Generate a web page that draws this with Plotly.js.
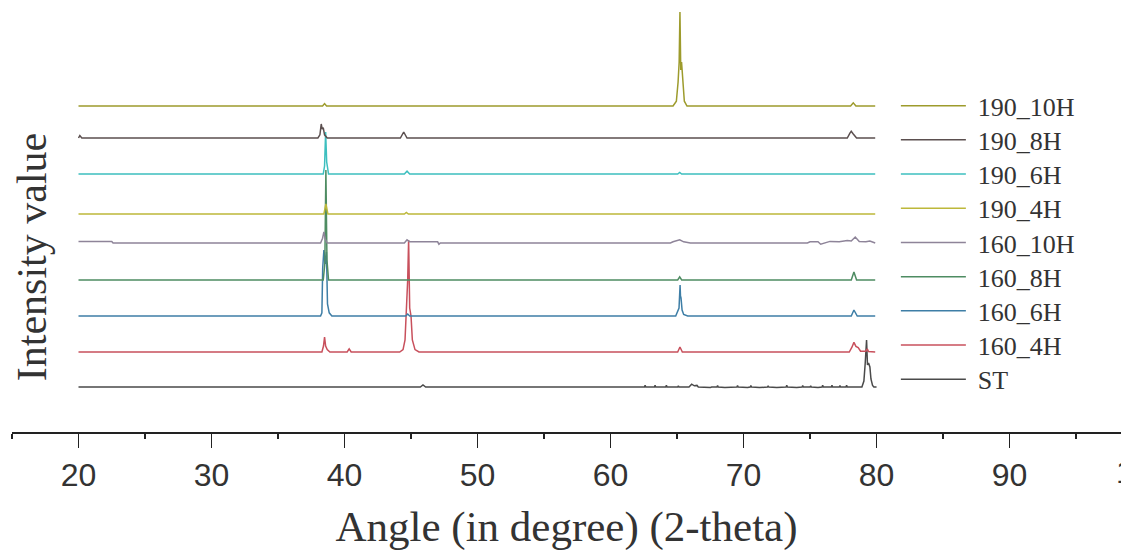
<!DOCTYPE html>
<html>
<head>
<meta charset="utf-8">
<script src="https://cdn.plot.ly/plotly-3.0.1.min.js"></script>
<style>html,body{margin:0;padding:0;background:#fff;}#chart{width:1121px;height:553px;}</style>
</head>
<body>
<div id="chart"></div>
<script>
// ---- data (angle in degrees 2-theta, intensity in arbitrary units above each pattern's baseline) ----
const seriesNames = ["190_10H", "190_8H", "190_6H", "190_4H", "160_10H", "160_8H", "160_6H", "160_4H", "ST"];
const offsets = [81.5, 73.5, 64.5, 54.5, 47.25, 38, 29, 20, 11.25];

const x190_10H = [20, 38.35, 38.5, 38.65, 64.7, 64.95, 65.08, 65.16, 65.22, 65.28, 65.34, 65.42, 65.55, 65.75, 78.05, 78.25, 78.45, 79.9];
const y190_10H = [0, 0, 0.6, 0, 0, 1.2, 6, 11, 23.5, 9, 11, 6, 1.2, 0, 0, 0.8, 0, 0];

const x190_8H = [20, 20.1, 20.25, 20.4, 38.0, 38.15, 38.25, 38.32, 38.4, 38.5, 38.7, 44.2, 44.45, 44.7, 77.8, 78.0, 78.1, 78.25, 78.5, 79.9];
const y190_8H = [0, 0.6, 0, 0, 0, 0.8, 3.5, 2.2, 2.6, 0.8, 0, 0, 1.5, 0, 0, 1.2, 1.7, 1.0, 0, 0];

const x190_6H = [20, 38.4, 38.5, 38.58, 38.66, 38.8, 44.5, 44.7, 44.9, 65.05, 65.2, 65.35, 79.9];
const y190_6H = [0, 0, 2, 10.5, 3, 0, 0, 0.7, 0, 0, 0.4, 0, 0];

const x190_4H = [20, 38.45, 38.6, 38.75, 44.5, 44.65, 44.8, 79.9];
const y190_4H = [0, 0, 2.5, 0, 0, 0.4, 0, 0];

const x160_10H = [20, 22.5, 22.6, 38.2, 38.35, 38.45, 38.55, 38.7, 44.5, 44.7, 44.9, 45.5, 47.0, 47.1, 47.2, 64.5, 64.7, 65.2, 65.5, 66.0, 74.8, 75.0, 75.6, 75.8, 76.5, 77.2, 77.8, 78.1, 78.4, 78.7, 79.2, 79.5, 79.9];
const y160_10H = [0.4, 0.4, 0, 0, 1.2, 2.8, 1.0, 0, 0, 0.8, 0.3, 0.3, 0.3, -0.3, 0, 0, 0.3, 0.8, 0.3, 0, 0, 0.3, 0.3, -0.3, 0.4, 0.3, 0.6, 0.5, 1.5, 0.4, 0.3, 0.5, 0];

const x160_8H = [20, 38.4, 38.52, 38.6, 38.68, 38.8, 65.05, 65.2, 65.35, 78.1, 78.3, 78.5, 79.9];
const y160_8H = [0, 0, 4, 27.5, 5, 0, 0, 0.8, 0, 0, 2, 0, 0];

const x160_6H = [20, 38.2, 38.3, 38.36, 38.45, 38.55, 38.64, 38.72, 38.85, 39.05, 44.6, 44.75, 44.9, 64.9, 65.15, 65.2, 65.23, 65.26, 65.3, 65.38, 65.5, 65.8, 78.1, 78.3, 78.55, 79.9];
const y160_6H = [0, 0, 0.8, 12, 16.5, 13, 16, 3, 0.8, 0, 0, 0.5, 0, 0, 2, 5.5, 7.75, 5, 4.5, 1.5, 0.4, 0, 0, 1.5, 0, 0];

const x160_4H = [20, 38.3, 38.42, 38.5, 38.58, 38.7, 38.9, 40.2, 40.35, 40.5, 44.15, 44.4, 44.55, 44.65, 44.75, 44.82, 44.9, 45.0, 45.1, 45.3, 45.6, 65.05, 65.22, 65.4, 77.95, 78.15, 78.3, 78.45, 78.62, 78.8, 79.2, 79.3, 79.4, 79.9];
const y160_4H = [0, 0, 1.5, 3.75, 1.5, 0.6, 0, 0, 0.8, 0, 0, 0.6, 3, 10, 18, 28, 11, 9, 3, 0.6, 0, 0, 1.25, 0, 0, 1.2, 2.4, 1.4, 1.1, 0.2, 0.2, 0.8, 0.1, 0];

const xST = [20, 45.7, 45.9, 46.1,
  62.55, 62.6, 62.65, 63.3, 63.35, 63.4, 64.15, 64.2, 64.25, 65.05, 65.1, 65.15,
  65.9, 66.1, 66.3, 66.5, 66.6, 67.2, 67.5, 67.6, 68.0, 68.05, 68.1, 68.6, 68.9, 69.0,
  69.5, 69.55, 69.6, 70.3, 70.5, 70.55, 70.6, 71.2, 71.6, 71.8, 71.85, 71.9,
  72.5, 73.0, 73.2, 73.25, 73.3, 74.0, 74.4, 74.45, 74.5, 75.0, 75.05, 75.1, 75.6, 75.9, 75.95, 76.0,
  76.6, 76.65, 76.7, 77.2, 77.25, 77.3, 77.7, 77.75, 77.8,
  78.9, 79.05, 79.15, 79.25, 79.32, 79.4, 79.5, 79.58, 79.7, 79.8, 80.0];
const yST = [0, 0, 0.5, 0,
  0, 0.4, 0, 0, 0.4, 0, 0, 0.4, 0, 0, 0.3, 0,
  0, 0.7, 0.3, 0.4, 0, -0.15, -0.15, 0, 0, 0.35, 0, -0.15, -0.15, 0,
  0, 0.35, 0, -0.15, 0, 0.35, 0, -0.15, -0.15, 0, 0.3, 0,
  -0.15, -0.15, 0, 0.4, 0, -0.15, 0, 0.35, 0, 0, 0.3, 0, -0.15, 0, 0.4, 0,
  0, 0.4, 0, 0, 0.35, 0, 0, 0.4, 0,
  0, 1.5, 6, 11.75, 5.5, 6, 5, 2, 0.4, 0, 0];

// tick label of the next major tick, cut by the right edge of the picture
const edgeTickText = ["100"];

// ---- styles ----
const lineColors = ["#9d9b2c", "#5b4f4f", "#3dbfbf", "#bdb83a", "#8e8499", "#4e8c62", "#3e7ea6", "#c8505c", "#4a4a4a"];

const xs = [x190_10H, x190_8H, x190_6H, x190_4H, x160_10H, x160_8H, x160_6H, x160_4H, xST];
const ys = [y190_10H, y190_8H, y190_6H, y190_4H, y160_10H, y160_8H, y160_6H, y160_4H, yST];

const traces = [];
// draw bottom pattern first so upper patterns are painted on top
for (let i = seriesNames.length - 1; i >= 0; i--) {
  traces.push({
    type: "scatter",
    mode: "lines",
    name: seriesNames[i],
    x: xs[i],
    y: ys[i].map(v => v + offsets[i]),
    line: {color: lineColors[i], width: 1.5},
    hoverinfo: "x+name"
  });
}

const serif = "'Liberation Serif', 'Times New Roman', serif";
const sans = "'Liberation Sans', Arial, sans-serif";

const layout = {
  width: 1121,
  height: 553,
  margin: {l: 12, r: 0, t: 0, b: 39},
  paper_bgcolor: "#ffffff",
  plot_bgcolor: "#ffffff",
  showlegend: true,
  legend: {
    x: 0.797, xanchor: "left",
    y: 0.84, yanchor: "top",
    traceorder: "reversed",
    itemwidth: 72,
    bgcolor: "rgba(0,0,0,0)",
    font: {family: serif, size: 26, color: "#333333"}
  },
  xaxis: {
    range: [15, 98.38],
    anchor: "free",
    position: 0.1595,
    showgrid: false,
    zeroline: false,
    showline: true,
    linecolor: "#222222",
    linewidth: 1.6,
    ticks: "outside",
    ticklen: 14,
    tickwidth: 1.6,
    tickcolor: "#222222",
    tick0: 0,
    dtick: 10,
    minor: {dtick: 5, tick0: 0, ticks: "outside", ticklen: 5, tickwidth: 1.6, tickcolor: "#222222", showgrid: false},
    tickfont: {family: sans, size: 32, color: "#333333"},
    title: {text: "Angle (in degree) (2-theta)", font: {family: serif, size: 43, color: "#333333"}, standoff: 19}
  },
  yaxis: {
    range: [-20.5, 108],
    anchor: "free",
    position: 0.044,
    showgrid: false,
    zeroline: false,
    showline: false,
    ticks: "",
    showticklabels: false,
    title: {text: "Intensity value", font: {family: serif, size: 42, color: "#333333"}, standoff: 0}
  },
  annotations: edgeTickText.map((t) => ({
    x: 1.019, xref: "paper", y: 0.0817, yref: "paper",
    text: t, showarrow: false,
    xanchor: "center", yanchor: "middle",
    font: {family: sans, size: 32, color: "#333333"}
  }))
};

Plotly.newPlot("chart", traces, layout, {displayModeBar: false, staticPlot: true}).then(function () {
  // lengthen legend sample lines and tighten row spacing to match the reference legend
  document.querySelectorAll(".legend .legendlines path").forEach(function (p) {
    p.setAttribute("d", "M5,0h65");
  });
  const items = Array.from(document.querySelectorAll(".legend .traces"));
  const parse = el => {
    const m = /translate\(\s*([-\d.]+)[ ,]+([-\d.]+)\s*\)/.exec(el.getAttribute("transform") || "");
    return m ? [parseFloat(m[1]), parseFloat(m[2])] : null;
  };
  const first = items.length ? parse(items[0]) : null;
  if (first) {
    items.forEach(function (el, i) {
      const p = parse(el);
      if (p) el.setAttribute("transform", "translate(" + p[0] + "," + (first[1] + i * 34.2) + ")");
    });
  }
});
</script>
</body>
</html>
